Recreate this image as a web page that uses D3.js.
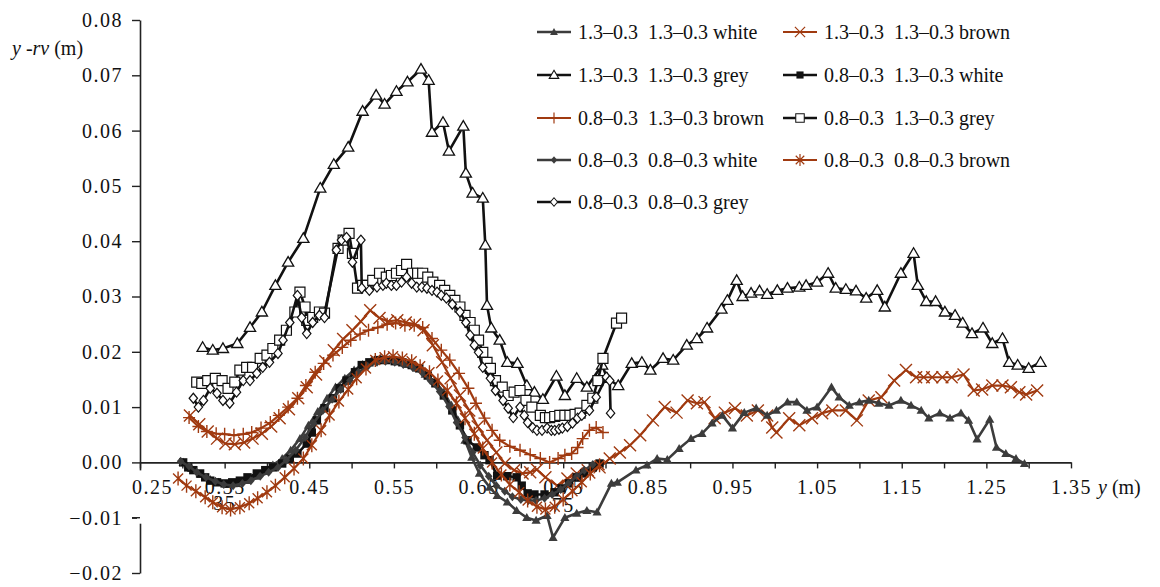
<!DOCTYPE html>
<html><head><meta charset="utf-8">
<script src="https://cdn.jsdelivr.net/npm/d3@7"></script>
<style>
html,body{margin:0;padding:0;background:#fff;}
svg{display:block;}
</style></head>
<body>
<svg id="chart" width="1160" height="587"></svg>
<script>
// ---------- data (x: y in m, y: y - rv in m) ----------
const greyTriX = [0.324,0.336,0.348,0.365,0.380,0.394,0.410,0.425,0.443,0.463,0.479,0.496,0.513,0.529,0.539,0.553,0.566,0.582,0.591,0.595,0.608,0.615,0.632,0.635,0.643,0.655,0.658,0.660,0.665,0.675,0.684,0.696,0.707,0.716,0.726,0.742,0.752,0.766,0.778,0.796,0.802,0.815,0.831,0.843,0.853,0.868,0.880,0.896,0.908,0.920,0.937,0.944,0.955,0.962,0.972,0.982,0.991,1.003,1.015,1.029,1.037,1.050,1.063,1.072,1.084,1.096,1.108,1.121,1.130,1.149,1.164,1.169,1.179,1.190,1.201,1.213,1.222,1.233,1.246,1.257,1.269,1.277,1.287,1.300,1.314];
const greyTriY = [0.0208,0.0203,0.0206,0.0215,0.0244,0.0272,0.0320,0.0362,0.0405,0.0496,0.0539,0.0570,0.0635,0.0664,0.0648,0.0671,0.0688,0.0711,0.0691,0.0597,0.0615,0.0563,0.0608,0.0523,0.0487,0.0478,0.0393,0.0284,0.0243,0.0221,0.0181,0.0179,0.0139,0.0127,0.0114,0.0156,0.0121,0.0152,0.0136,0.0176,0.0152,0.0139,0.0179,0.0181,0.0167,0.0188,0.0185,0.0212,0.0224,0.0243,0.0277,0.0293,0.0329,0.0300,0.0306,0.0310,0.0304,0.0311,0.0315,0.0317,0.0320,0.0326,0.0342,0.0315,0.0313,0.0310,0.0297,0.0311,0.0281,0.0342,0.0378,0.0320,0.0291,0.0291,0.0272,0.0266,0.0252,0.0233,0.0243,0.0215,0.0224,0.0181,0.0176,0.0170,0.0181];

const whiteTriX = [0.301,0.311,0.322,0.333,0.343,0.354,0.364,0.375,0.386,0.396,0.407,0.418,0.428,0.439,0.449,0.460,0.471,0.481,0.492,0.503,0.513,0.524,0.534,0.545,0.556,0.566,0.577,0.587,0.598,0.609,0.618,0.626,0.634,0.642,0.651,0.663,0.672,0.684,0.695,0.707,0.718,0.731,0.738,0.752,0.766,0.778,0.790,0.807,0.814,0.836,0.849,0.861,0.873,0.887,0.901,0.914,0.926,0.938,0.950,0.964,0.978,0.991,1.002,1.015,1.026,1.038,1.050,1.067,1.076,1.088,1.100,1.111,1.123,1.135,1.149,1.161,1.173,1.182,1.195,1.207,1.220,1.229,1.239,1.254,1.262,1.273,1.285,1.295];
const whiteTriY = [0,-0.0011,-0.0022,-0.0031,-0.0036,-0.0040,-0.0038,-0.0033,-0.0025,-0.0016,-0.0005,0.0007,0.0022,0.0043,0.0067,0.0092,0.0116,0.0136,0.0152,0.0167,0.0177,0.0185,0.0188,0.0186,0.0183,0.0177,0.0170,0.0159,0.0147,0.0127,0.0103,0.0076,0.0040,0.0009,-0.0020,-0.0045,-0.0060,-0.0072,-0.0087,-0.0100,-0.0105,-0.0096,-0.0136,-0.0100,-0.0092,-0.0087,-0.0090,-0.0038,-0.0036,-0.0014,-0.0005,0.0007,0.0005,0.0025,0.0043,0.0052,0.0071,0.0085,0.0062,0.0090,0.0098,0.0085,0.0094,0.0109,0.0109,0.0094,0.0100,0.0136,0.0118,0.0103,0.0109,0.0112,0.0107,0.0103,0.0112,0.0103,0.0094,0.0080,0.0089,0.0080,0.0089,0.0076,0.0042,0.0078,0.0027,0.0016,0.0007,-0.0002];

const whiteSqX = [0.301,0.307,0.313,0.321,0.327,0.333,0.341,0.350,0.359,0.368,0.377,0.388,0.398,0.407,0.418,0.427,0.436,0.447,0.453,0.459,0.468,0.478,0.486,0.494,0.504,0.512,0.521,0.531,0.541,0.551,0.560,0.571,0.580,0.590,0.599,0.609,0.619,0.628,0.637,0.648,0.657,0.663,0.672,0.684,0.695,0.701,0.708,0.716,0.728,0.740,0.748,0.757,0.766,0.775,0.785,0.793];
const whiteSqY = [0,-0.0009,-0.0014,-0.0020,-0.0027,-0.0033,-0.0036,-0.0038,-0.0036,-0.0033,-0.0027,-0.0020,-0.0014,-0.0009,-0.0002,0.0007,0.0016,0.0034,0.0054,0.0076,0.0098,0.0116,0.0134,0.0148,0.0163,0.0176,0.0181,0.0185,0.0185,0.0183,0.0181,0.0176,0.0170,0.0157,0.0143,0.0121,0.0094,0.0067,0.0040,0.0027,0.0013,0.0004,-0.0024,-0.0025,-0.0027,-0.0042,-0.0056,-0.0058,-0.0058,-0.0054,-0.0047,-0.0038,-0.0027,-0.0020,-0.0009,-0.0002];

const whiteDiaX = [0.298,0.308,0.317,0.328,0.339,0.349,0.360,0.371,0.381,0.392,0.402,0.413,0.423,0.434,0.445,0.455,0.466,0.477,0.487,0.498,0.508,0.519,0.530,0.540,0.551,0.561,0.572,0.583,0.593,0.604,0.615,0.624,0.634,0.643,0.652,0.662,0.671,0.681,0.690,0.700,0.709,0.718,0.728,0.737,0.747,0.756,0.766,0.775,0.785];
const whiteDiaY = [0.0002,-0.0007,-0.0018,-0.0027,-0.0034,-0.0040,-0.0042,-0.0038,-0.0033,-0.0025,-0.0018,-0.0009,0.0004,0.0022,0.0045,0.0071,0.0094,0.0114,0.0132,0.0148,0.0163,0.0174,0.0181,0.0183,0.0181,0.0177,0.0172,0.0163,0.0148,0.0128,0.0101,0.0072,0.0045,0.0018,-0.0005,-0.0025,-0.0042,-0.0052,-0.0062,-0.0067,-0.0069,-0.0069,-0.0065,-0.0058,-0.0049,-0.0038,-0.0025,-0.0014,-0.0004];

const brownAstX = [0.295,0.305,0.316,0.327,0.336,0.347,0.357,0.368,0.379,0.389,0.400,0.410,0.421,0.432,0.443,0.453,0.464,0.474,0.485,0.496,0.506,0.517,0.528,0.539,0.549,0.560,0.571,0.581,0.592,0.602,0.613,0.624,0.634,0.645,0.655,0.666,0.677,0.687,0.698,0.708,0.719,0.729,0.740,0.750,0.761,0.772,0.782,0.793];
const brownAstY = [-0.0029,-0.0042,-0.0052,-0.0063,-0.0072,-0.0081,-0.0085,-0.0081,-0.0074,-0.0065,-0.0054,-0.0042,-0.0027,-0.0011,0.0007,0.0031,0.0058,0.0085,0.0110,0.0132,0.0152,0.0170,0.0185,0.0190,0.0192,0.0188,0.0183,0.0174,0.0163,0.0148,0.0130,0.0107,0.0080,0.0052,0.0025,0,-0.0022,-0.0040,-0.0054,-0.0069,-0.0080,-0.0085,-0.0080,-0.0067,-0.0052,-0.0036,-0.0020,-0.0005];

const brownXX = [0.309,0.320,0.330,0.341,0.351,0.362,0.373,0.383,0.394,0.405,0.415,0.426,0.437,0.447,0.458,0.469,0.479,0.490,0.501,0.511,0.522,0.533,0.543,0.554,0.564,0.575,0.585,0.596,0.607,0.617,0.628,0.639,0.649,0.660,0.671,0.681,0.692,0.702,0.711,0.719,0.729,0.743,0.755,0.766,0.779,0.793,0.805,0.817,0.829,0.841,0.856,0.870,0.884,0.897,0.908,0.917,0.929,0.941,0.953,0.967,0.980,0.991,0.997,1.002,1.017,1.029,1.044,1.056,1.068,1.084,1.097,1.111,1.126,1.141,1.155,1.167,1.176,1.186,1.198,1.209,1.223,1.235,1.245,1.257,1.269,1.279,1.289,1.297,1.310];
const brownXY = [0.0085,0.0069,0.0056,0.0043,0.0034,0.0033,0.0036,0.0043,0.0052,0.0065,0.0080,0.0096,0.0116,0.0136,0.0159,0.0183,0.0203,0.0223,0.0239,0.0255,0.0275,0.0261,0.0255,0.0257,0.0253,0.0250,0.0239,0.0212,0.0181,0.0152,0.0121,0.0094,0.0065,0.0040,0.0018,-0.0002,-0.0014,-0.0020,-0.0018,-0.0013,-0.0027,-0.0042,-0.0029,-0.0020,-0.0014,-0.0009,0.0007,0.0018,0.0031,0.0049,0.0076,0.0100,0.0090,0.0112,0.0107,0.0109,0.0080,0.0090,0.0098,0.0085,0.0094,0.0085,0.0063,0.0054,0.0080,0.0067,0.0080,0.0089,0.0094,0.0094,0.0076,0.0112,0.0118,0.0148,0.0167,0.0154,0.0154,0.0154,0.0154,0.0154,0.0159,0.0130,0.0132,0.0139,0.0139,0.0136,0.0127,0.0123,0.0130];

const brownPlusX = [0.308,0.319,0.329,0.340,0.350,0.361,0.372,0.382,0.393,0.404,0.414,0.425,0.436,0.446,0.457,0.467,0.478,0.489,0.499,0.510,0.520,0.531,0.542,0.552,0.563,0.574,0.584,0.595,0.606,0.616,0.627,0.638,0.647,0.657,0.666,0.675,0.687,0.699,0.711,0.723,0.734,0.744,0.752,0.760,0.767,0.773,0.781,0.789,0.797];
const brownPlusY = [0.0081,0.0065,0.0056,0.0052,0.0051,0.0049,0.0051,0.0054,0.0062,0.0072,0.0085,0.0100,0.0116,0.0139,0.0163,0.0179,0.0194,0.0208,0.0221,0.0232,0.0239,0.0244,0.0250,0.0252,0.0248,0.0248,0.0244,0.0224,0.0203,0.0185,0.0161,0.0134,0.0107,0.0080,0.0058,0.0040,0.0029,0.0022,0.0014,0.0007,0,0.0007,0.0013,0.0016,0.0027,0.0043,0.0058,0.0063,0.0054];

const greySqX = [0.317,0.323,0.330,0.339,0.347,0.354,0.362,0.368,0.376,0.383,0.392,0.400,0.407,0.415,0.423,0.433,0.439,0.445,0.447,0.454,0.462,0.468,0.484,0.490,0.497,0.501,0.507,0.513,0.518,0.525,0.533,0.541,0.547,0.553,0.559,0.565,0.572,0.578,0.584,0.590,0.596,0.604,0.610,0.616,0.622,0.628,0.634,0.640,0.645,0.650,0.655,0.660,0.664,0.670,0.678,0.685,0.692,0.699,0.706,0.713,0.723,0.729,0.734,0.740,0.746,0.752,0.758,0.764,0.770,0.778,0.785,0.791,0.797,0.813,0.819];
const greySqY = [0.0145,0.0143,0.0148,0.0152,0.0148,0.0134,0.0145,0.0167,0.0172,0.0172,0.0188,0.0194,0.0206,0.0221,0.0239,0.0272,0.0308,0.0281,0.0257,0.0262,0.0272,0.0270,0.0387,0.0402,0.0414,0.0378,0.0315,0.0320,0.0320,0.0329,0.0342,0.0335,0.0338,0.0342,0.0347,0.0358,0.0342,0.0342,0.0342,0.0335,0.0326,0.0320,0.0311,0.0302,0.0293,0.0281,0.0266,0.0253,0.0239,0.0221,0.0199,0.0181,0.0170,0.0148,0.0136,0.0121,0.0127,0.0130,0.0112,0.0100,0.0085,0.0081,0.0081,0.0083,0.0085,0.0085,0.0085,0.0087,0.0089,0.0103,0.0116,0.0148,0.0188,0.0252,0.0261];

const greyDiaX = [0.313,0.319,0.325,0.333,0.341,0.348,0.356,0.364,0.372,0.380,0.388,0.395,0.403,0.413,0.419,0.427,0.436,0.441,0.447,0.454,0.462,0.468,0.482,0.488,0.494,0.501,0.511,0.512,0.521,0.530,0.537,0.541,0.547,0.553,0.559,0.565,0.571,0.577,0.583,0.589,0.595,0.601,0.606,0.612,0.619,0.628,0.635,0.640,0.645,0.650,0.655,0.664,0.670,0.679,0.685,0.691,0.699,0.704,0.708,0.714,0.719,0.725,0.731,0.736,0.740,0.745,0.749,0.755,0.761,0.767,0.772,0.781,0.789,0.801,0.805,0.806];
const greyDiaY = [0.0116,0.0100,0.0112,0.0134,0.0125,0.0112,0.0107,0.0127,0.0148,0.0148,0.0161,0.0172,0.0181,0.0197,0.0221,0.0253,0.0302,0.0262,0.0233,0.0253,0.0266,0.0262,0.0384,0.0402,0.0407,0.0362,0.0402,0.0315,0.0311,0.0317,0.0320,0.0324,0.0320,0.0320,0.0326,0.0335,0.0324,0.0317,0.0317,0.0315,0.0311,0.0308,0.0302,0.0297,0.0286,0.0272,0.0253,0.0230,0.0212,0.0199,0.0172,0.0152,0.0130,0.0112,0.0098,0.0081,0.0100,0.0085,0.0072,0.0063,0.0058,0.0058,0.0062,0.0058,0.0058,0.0060,0.0062,0.0065,0.0071,0.0080,0.0085,0.0094,0.0118,0.0154,0.0148,0.0089];

const xTickValues = [0.25,0.30,0.35,0.40,0.45,0.50,0.55,0.60,0.65,0.70,0.75,0.80,0.85,0.90,0.95,1.00,1.05,1.10,1.15,1.20,1.25,1.30,1.35];
const xTickLabels = ["0.25","","0.35","","0.45","","0.55","","0.65","","0.75","","0.85","","0.95","","1.05","","1.15","","1.25","","1.35"];
const yTickValues = [-0.02,-0.01,0.00,0.01,0.02,0.03,0.04,0.05,0.06,0.07,0.08];

const legendNames = [
  "1.3–0.3  1.3–0.3 white", "1.3–0.3  1.3–0.3 grey", "0.8–0.3  1.3–0.3 brown",
  "0.8–0.3  0.8–0.3 white", "0.8–0.3  0.8–0.3 grey", "1.3–0.3  1.3–0.3 brown",
  "0.8–0.3  1.3–0.3 white", "0.8–0.3  1.3–0.3 grey", "0.8–0.3  0.8–0.3 brown"
];

// ---------- styles ----------
const FONT = '"Liberation Serif", "Times New Roman", serif';
const BROWN = "#a03a10", DARK = "#3c3c3c", BLACK = "#111";
const shapes = {
  triFilled: "M0,-4.6L4.6,3.4L-4.6,3.4Z",
  triOpen:   "M0,-5.6L5.6,4L-5.6,4Z",
  sqFilled:  "M-4.2,-4.2H4.2V4.2H-4.2Z",
  sqOpen:    "M-5,-5H5V5H-5Z",
  diaFilled: "M0,-4.5L3.8,0L0,4.5L-3.8,0Z",
  diaOpen:   "M0,-5L4.2,0L0,5L-4.2,0Z",
  cross:     "M-6,-6L6,6M-6,6L6,-6",
  plus:      "M-6,0H6M0,-6.5V6.5",
  aster:     "M-5,-5L5,5M-5,5L5,-5M0,-7V7"
};
const series = [
  {name:legendNames[1], xs:greyTriX,  ys:greyTriY,  color:BLACK, lw:2.6, shape:"triOpen",  fill:"#fff", stroke:BLACK, sw:1.3},
  {name:legendNames[7], xs:greySqX,   ys:greySqY,   color:BLACK, lw:2.6, shape:"sqOpen",   fill:"#fff", stroke:BLACK, sw:1.2},
  {name:legendNames[4], xs:greyDiaX,  ys:greyDiaY,  color:BLACK, lw:2.6, shape:"diaOpen",  fill:"#fff", stroke:BLACK, sw:1.2},
  {name:legendNames[5], xs:brownXX,   ys:brownXY,   color:BROWN, lw:2.2, shape:"cross",    fill:"none", stroke:BROWN, sw:1.4},
  {name:legendNames[2], xs:brownPlusX,ys:brownPlusY,color:BROWN, lw:2.2, shape:"plus",     fill:"none", stroke:BROWN, sw:1.4},
  {name:legendNames[0], xs:whiteTriX, ys:whiteTriY, color:DARK,  lw:2.6, shape:"triFilled",fill:DARK,   stroke:"none", sw:0},
  {name:legendNames[6], xs:whiteSqX,  ys:whiteSqY,  color:BLACK, lw:2.6, shape:"sqFilled", fill:BLACK,  stroke:"none", sw:0},
  {name:legendNames[3], xs:whiteDiaX, ys:whiteDiaY, color:DARK,  lw:2.6, shape:"diaFilled",fill:DARK,   stroke:"none", sw:0},
  {name:legendNames[8], xs:brownAstX, ys:brownAstY, color:BROWN, lw:2.2, shape:"aster",    fill:"none", stroke:BROWN, sw:1.4}
];
const byName = Object.fromEntries(series.map(s => [s.name, s]));

// ---------- scales ----------
const svg = d3.select("#chart");
const x = d3.scaleLinear().domain([0.25, 1.35]).range([140, 1071]);
const y = d3.scaleLinear().domain([-0.02, 0.08]).range([573, 20]);

// ---------- axes ----------
const yAxis = svg.append("g").attr("transform", `translate(${x(0.25)},0)`)
  .call(d3.axisLeft(y).tickValues(yTickValues).tickSize(8).tickSizeOuter(0).tickPadding(9)
        .tickFormat(d3.format(".2f")));
// gap in the y axis behind the 0.25 label
svg.append("rect").attr("x", x(0.25) - 3).attr("y", y(0) + 8).attr("width", 6)
  .attr("height", y(-0.01) - y(0) - 2).attr("fill", "#fff");
svg.append("line").attr("x1", x(0.25) - 8).attr("x2", x(0.25)).attr("y1", y(-0.01)).attr("y2", y(-0.01))
  .attr("stroke", "#222").attr("stroke-width", 1.4);
const xAxis = svg.append("g").attr("transform", `translate(0,${y(0)})`)
  .call(d3.axisBottom(x).tickValues(xTickValues).tickSize(6).tickSizeOuter(0).tickPadding(11)
        .tickFormat((d,i) => xTickLabels[i]));
[xAxis, yAxis].forEach(g => {
  g.attr("font-family", null);
  g.selectAll("path.domain").attr("stroke", "#222").attr("stroke-width", 1.6);
  g.selectAll(".tick line").attr("stroke", "#222").attr("stroke-width", 1.4);
  g.selectAll(".tick text").attr("font-size", 20).attr("letter-spacing", "1.5px").attr("fill", "#111");
});
// first x label sits to the right of the y axis
xAxis.selectAll(".tick text").filter((d,i) => i === 0).attr("dx", 12);

// stray wrapped label fragments of the original
svg.append("text").attr("x", x(0.35)).attr("y", y(0) + 48).attr("text-anchor", "middle")
  .attr("font-size", 20).attr("letter-spacing", "1.5px").attr("fill", "#111").text("35");
svg.append("text").attr("x", x(0.75)).attr("y", y(0) + 50).attr("text-anchor", "middle")
  .attr("font-size", 20).attr("letter-spacing", "1.5px").attr("fill", "#111").text("75");

// axis titles
const yt = svg.append("text").attr("x", 12).attr("y", 55).attr("font-size", 20).attr("fill", "#111");
yt.append("tspan").attr("font-style", "italic").text("y -rv");
yt.append("tspan").text(" (m)");
const xt = svg.append("text").attr("x", 1098).attr("y", y(0) + 32).attr("font-size", 20).attr("fill", "#111");
xt.append("tspan").attr("font-style", "italic").text("y");
xt.append("tspan").text(" (m)");

// ---------- series ----------
const line = d3.line().x(d => x(d[0])).y(d => y(d[1]));
series.forEach(s => {
  const pts = s.xs.map((v,i) => [v, s.ys[i]]).filter(p => p[1] !== undefined);
  const g = svg.append("g");
  g.append("path").datum(pts).attr("d", line).attr("fill", "none")
    .attr("stroke", s.color).attr("stroke-width", s.lw).attr("stroke-linejoin", "round");
  g.selectAll("path.m").data(pts).join("path").attr("class", "m")
    .attr("d", shapes[s.shape]).attr("transform", d => `translate(${x(d[0])},${y(d[1])})`)
    .attr("fill", s.fill).attr("stroke", s.stroke).attr("stroke-width", s.sw);
});

// ---------- legend ----------
const legendCols = [537, 783];
const legendRows = [32, 75, 118, 160, 202];
const legendOrder = [
  [legendNames[0], 0, 0], [legendNames[5], 1, 0],
  [legendNames[1], 0, 1], [legendNames[6], 1, 1],
  [legendNames[2], 0, 2], [legendNames[7], 1, 2],
  [legendNames[3], 0, 3], [legendNames[8], 1, 3],
  [legendNames[4], 0, 4]
];
legendOrder.forEach(([name, c, r]) => {
  const s = byName[name];
  const gx = legendCols[c], gy = legendRows[r];
  const g = svg.append("g").attr("transform", `translate(${gx},${gy})`);
  g.append("line").attr("x1", 0).attr("x2", 34).attr("y1", 0).attr("y2", 0)
    .attr("stroke", s.color).attr("stroke-width", s.lw);
  g.append("path").attr("d", shapes[s.shape]).attr("transform", "translate(17,0) scale(0.85)")
    .attr("fill", s.fill).attr("stroke", s.stroke).attr("stroke-width", s.sw);
  g.append("text").attr("x", 41).attr("y", 0).attr("dy", "0.33em").attr("font-size", 20)
    .attr("fill", "#111").style("white-space", "pre").text(name);
});

// serif face on every text element
svg.selectAll("text").style("font-family", FONT);
</script>
</body></html>
